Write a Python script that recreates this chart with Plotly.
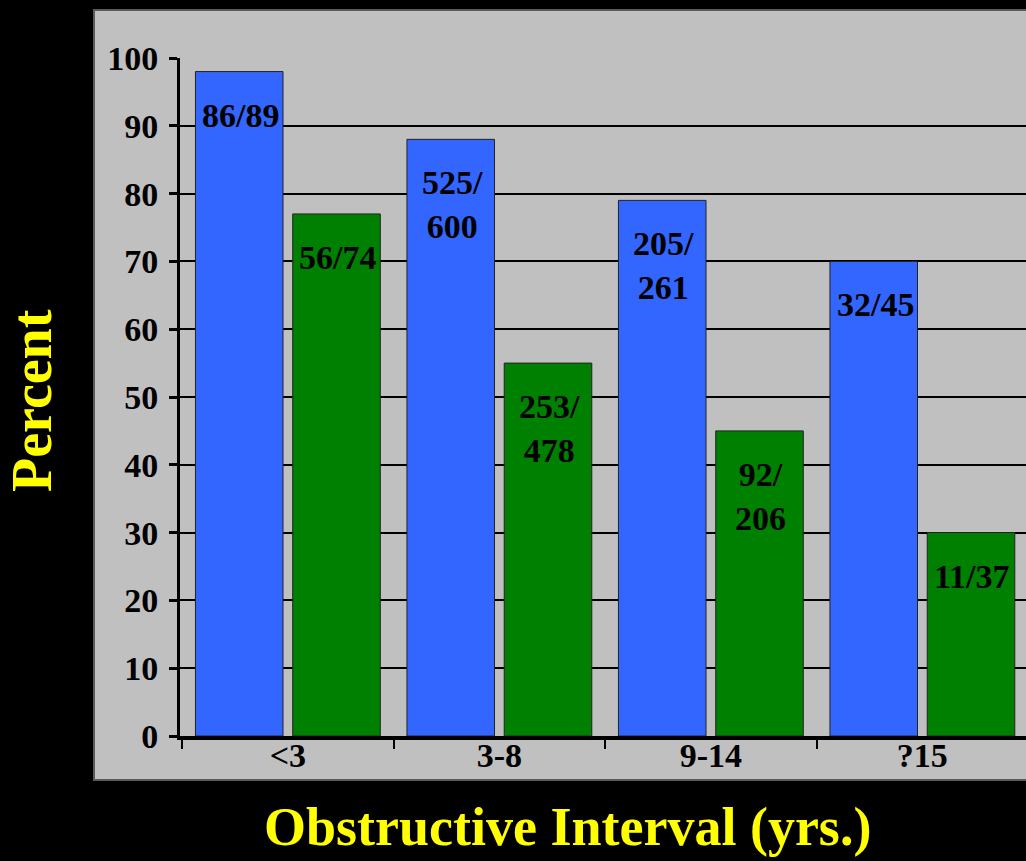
import plotly.graph_objects as go

# Categories and series
categories = ["<3", "3-8", "9-14", "?15"]
blue_pct = [98, 88, 79, 70]
green_pct = [77, 55, 45, 30]
blue_labels = ["86/89", "525/<br>600", "205/<br>261", "32/45"]
green_labels = ["56/74", "253/<br>478", "92/<br>206", "11/37"]
y_ticks = [0, 10, 20, 30, 40, 50, 60, 70, 80, 90, 100]

W, H = 1026, 861
ML, MR, MT, MB = 180, 0, 58, 125
PW, PH = W - ML - MR, H - MT - MB

FONT = "Liberation Serif"
GRAY = "#C0C0C0"
BLUE = "#3366FF"
GREEN = "#008000"


def px_x(x):
    return (x - ML) / PW


def px_y(y):
    return (H - MB - y) / PH


fig = go.Figure()
fig.add_trace(go.Bar(x=categories, y=blue_pct, marker=dict(color=BLUE, line=dict(color="#222222", width=1)),
                     hoverinfo="skip"))
fig.add_trace(go.Bar(x=categories, y=green_pct, marker=dict(color=GREEN, line=dict(color="#222222", width=1)),
                     hoverinfo="skip"))

# Ratio labels inside the top of each bar
annotations = []
for cat, val, lab in zip(categories, blue_pct, blue_labels):
    annotations.append(dict(x=cat, y=val, xref="x", yref="y", text="<b>%s</b>" % lab, showarrow=False,
                            xshift=-47, yshift=-23, yanchor="top", xanchor="center",
                            font=dict(family=FONT, size=34, color="black")))
for cat, val, lab in zip(categories, green_pct, green_labels):
    annotations.append(dict(x=cat, y=val, xref="x", yref="y", text="<b>%s</b>" % lab, showarrow=False,
                            xshift=50, yshift=-23, yanchor="top", xanchor="center",
                            font=dict(family=FONT, size=34, color="black")))

annotations.append(dict(x=px_x(567), y=px_y(827), xref="paper", yref="paper",
                        text="<b>Obstructive Interval (yrs.)</b>", showarrow=False,
                        xanchor="center", yanchor="middle",
                        font=dict(family=FONT, size=54, color="#FFFF00")))
annotations.append(dict(x=px_x(32), y=px_y(401), xref="paper", yref="paper",
                        text="<b>Percent</b>", showarrow=False, textangle=-90,
                        xanchor="center", yanchor="middle", borderpad=0,
                        font=dict(family=FONT, size=56, color="#FFFF00")))

fig.update_layout(
    width=W, height=H,
    margin=dict(l=ML, r=MR, t=MT, b=MB, pad=0),
    paper_bgcolor="black",
    plot_bgcolor=GRAY,
    barmode="group", bargap=0.08, bargroupgap=0.1,
    showlegend=False,
    annotations=annotations,
    shapes=[dict(type="rect", xref="paper", yref="paper", layer="below",
                 x0=px_x(94), x1=px_x(1027), y0=px_y(780), y1=px_y(10),
                 fillcolor=GRAY, line=dict(color="#5a5a5a", width=2))],
)

fig.update_xaxes(
    type="category", range=[-0.51, 3.49],
    showline=True, linecolor="black", linewidth=4,
    ticks="outside", tickson="boundaries", ticklen=9, tickwidth=2, tickcolor="black",
    tickfont=dict(family=FONT, size=34, color="black"),
    ticklabelstandoff=-14,
    showgrid=False, zeroline=False,
)
fig.update_yaxes(
    range=[0, 100], tickvals=y_ticks,
    showline=True, linecolor="black", linewidth=3,
    ticks="outside", ticklen=8, tickwidth=3, tickcolor="black",
    tickfont=dict(family=FONT, size=34, color="black"),
    ticklabelstandoff=4,
    showgrid=True, gridcolor="black", gridwidth=1.5,
    zeroline=False,
)

# Bold tick labels
fig.update_xaxes(ticktext=["<b>%s</b>" % c.replace("<", "&lt;") for c in categories], tickvals=categories)
fig.update_yaxes(ticktext=["<b>%d</b>" % v for v in y_ticks])

fig.write_html("out.html")
